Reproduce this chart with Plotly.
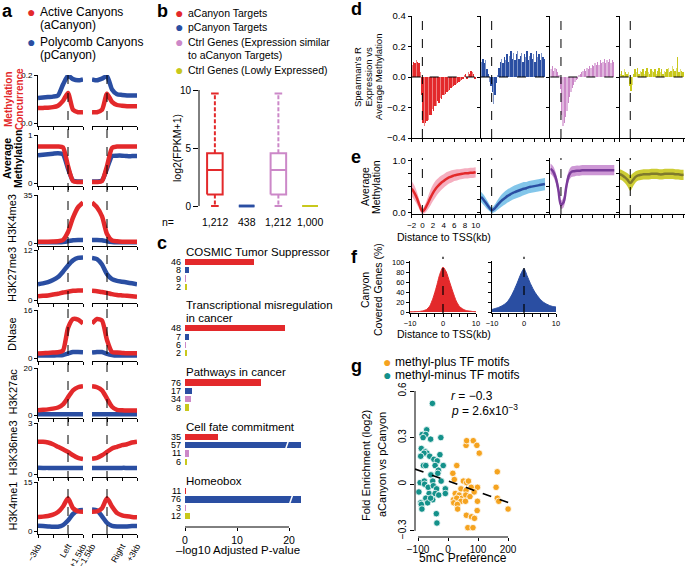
import numpy as np
import plotly.graph_objects as go

FONT = "Liberation Sans, Arial, Helvetica, sans-serif"
W, H = 685, 566

# ======================= DATA =======================
# ---- panel a : profiles around canyon edges (kb) ----
a_left_pos = [-3, -2.5, -2, -1.5, -1, -0.5, 0, 0.5, 1, 1.5]
a_right_pos = [-1.5, -1, -0.5, 0, 0.5, 1, 1.5, 2, 2.5, 3]
a_left_ticks = [-3, -1.5, 0, 1.5]
a_right_ticks = [-1.5, 0, 1.5, 3]
a_left_ticklabels = ["−3kb", "", "Left", "+1.5kb"]
a_right_ticklabels = ["−1.5kb", "", "Right", "+3kb"]
a_track_names = ["Methylation Concurrence", "Average Methylation", "H3K4me3", "H3K27me3",
                 "DNase", "H3K27ac", "H3K36me3", "H3K4me1"]
a_track_max = [0.2, 1, 35, 12, 16, 20, 3, 15]
a_track_top_label = ["0.2", "1", "35", "12", "16", "20", "3", "15"]
a_track_zero_label = ["0.0", "0", "0", "0", "0", "0", "0", "0"]

conc_active_left = [0.062, 0.063, 0.064, 0.066, 0.072, 0.092, 0.125, 0.055, 0.045, 0.045]
conc_active_right = [0.045, 0.045, 0.055, 0.122, 0.088, 0.075, 0.072, 0.070, 0.070, 0.070]
conc_poly_left = [0.104, 0.106, 0.108, 0.110, 0.115, 0.160, 0.197, 0.183, 0.178, 0.182]
conc_poly_right = [0.182, 0.178, 0.185, 0.195, 0.140, 0.120, 0.117, 0.115, 0.115, 0.115]

meth_active_left = [0.76, 0.76, 0.76, 0.76, 0.76, 0.74, 0.35, 0.04, 0.02, 0.02]
meth_active_right = [0.02, 0.02, 0.04, 0.35, 0.73, 0.76, 0.76, 0.76, 0.76, 0.76]
meth_poly_left = [0.58, 0.59, 0.60, 0.61, 0.62, 0.60, 0.30, 0.05, 0.03, 0.03]
meth_poly_right = [0.03, 0.03, 0.05, 0.30, 0.56, 0.57, 0.57, 0.56, 0.56, 0.56]

k4me3_active_left = [1.0, 1.0, 1.0, 1.1, 1.3, 2.2, 8.0, 18.5, 26.0, 29.5]
k4me3_active_right = [29.5, 26.0, 19.5, 6.5, 1.8, 1.2, 1.0, 1.0, 1.0, 1.0]
k4me3_poly_left = [0.5, 0.5, 0.5, 0.5, 0.6, 0.8, 1.3, 2.0, 2.2, 2.2]
k4me3_poly_right = [2.2, 2.2, 2.0, 1.2, 0.7, 0.5, 0.5, 0.5, 0.5, 0.5]

k27me3_active_left = [0.9, 1.0, 1.1, 1.3, 1.5, 1.8, 2.0, 2.2, 2.3, 2.3]
k27me3_active_right = [2.2, 2.1, 1.9, 1.7, 1.4, 1.2, 1.1, 1.0, 0.9, 0.8]
k27me3_poly_left = [3.8, 4.0, 4.3, 4.8, 5.5, 6.8, 8.3, 9.5, 10.1, 10.2]
k27me3_poly_right = [10.1, 9.8, 8.5, 6.2, 5.0, 4.6, 4.4, 4.2, 4.0, 3.8]

dnase_active_left = [1.5, 1.6, 1.7, 1.8, 1.9, 2.5, 10.0, 13.0, 12.8, 11.5]
dnase_active_right = [11.5, 13.0, 12.5, 6.0, 2.0, 1.8, 1.7, 1.6, 1.6, 1.6]
dnase_poly_left = [0.8, 0.8, 0.8, 0.8, 0.9, 1.0, 1.5, 2.0, 2.0, 1.9]
dnase_poly_right = [1.8, 2.0, 2.0, 1.4, 1.0, 0.8, 0.8, 0.8, 0.8, 0.8]

k27ac_active_left = [2.0, 2.2, 2.4, 2.7, 3.2, 4.5, 7.5, 10.5, 11.8, 12.2]
k27ac_active_right = [12.2, 11.8, 10.5, 7.0, 3.5, 2.2, 2.0, 1.9, 1.9, 1.9]
k27ac_poly_left = [0.3, 0.3, 0.3, 0.3, 0.3, 0.3, 0.3, 0.3, 0.3, 0.3]
k27ac_poly_right = [0.3, 0.3, 0.3, 0.3, 0.3, 0.3, 0.3, 0.3, 0.3, 0.3]

k36me3_active_left = [1.9, 1.9, 1.85, 1.75, 1.6, 1.45, 1.3, 1.1, 0.95, 0.88]
k36me3_active_right = [0.9, 0.95, 1.1, 1.3, 1.5, 1.6, 1.7, 1.75, 1.85, 1.9]
k36me3_poly_left = [0.37, 0.36, 0.36, 0.35, 0.35, 0.35, 0.35, 0.35, 0.35, 0.35]
k36me3_poly_right = [0.35, 0.35, 0.35, 0.35, 0.35, 0.35, 0.36, 0.36, 0.36, 0.36]

k4me1_active_left = [4.3, 4.4, 4.6, 5.0, 5.8, 7.5, 10.0, 7.0, 6.0, 5.9]
k4me1_active_right = [5.9, 6.0, 7.0, 10.0, 7.5, 5.5, 4.8, 4.5, 4.3, 4.2]
k4me1_poly_left = [1.6, 1.5, 1.4, 1.3, 1.3, 1.8, 3.2, 5.2, 6.2, 6.4]
k4me1_poly_right = [6.6, 6.3, 4.5, 2.5, 1.6, 1.4, 1.4, 1.4, 1.5, 1.5]

# ---- panel b : expression box statistics ----
b_groups = ["aCanyon Targets", "pCanyon Targets",
            "Ctrl Genes (Expression similar to aCanyon Targets)", "Ctrl Genes (Lowly Expressed)"]
b_n = ["1,212", "438", "1,212", "1,000"]
b_lower = [0, 0, 0, 0]
b_q1 = [1.0, 0, 1.0, 0]
b_median = [3.1, 0, 3.1, 0]
b_q3 = [4.55, 0.06, 4.55, 0]
b_upper = [9.7, 0.08, 9.7, 0]

# ---- panel c : enrichment ----
c_terms = ["COSMIC Tumor Suppressor", "Transcriptional misregulation<br>in cancer",
           "Pathways in cancer", "Cell fate commitment", "Homeobox"]
c_counts = [[46, 8, 9, 2], [48, 7, 6, 2], [76, 17, 34, 8], [35, 57, 11, 6], [11, 76, 3, 12]]
c_values = [[13.3, 0.8, 0.2, 0.3], [19.3, 0.8, 0.1, 0.3], [14.7, 1.4, 1.15, 0.7],
            [6.3, 22.3, 0.7, 0.3], [0.15, 22.3, 0.15, 1.0]]
c_ticks = [0, 10, 20]

# ---- panel d : Spearman's R vs distance to TSS ----
d_bins = [-1.875, -1.625, -1.375, -1.125, -0.875, -0.625, -0.375, -0.125, 0.125, 0.375,
          0.625, 0.875, 1.125, 1.375, 1.625, 1.875, 2.125, 2.375, 2.625, 2.875,
          3.125, 3.375, 3.625, 3.875, 4.125, 4.375, 4.625, 4.875, 5.125, 5.375,
          5.625, 5.875, 6.125, 6.375, 6.625, 6.875, 7.125, 7.375, 7.625, 7.875,
          8.125, 8.375, 8.625, 8.875, 9.125, 9.375, 9.625, 9.875]
d_red = [0.08, 0.10, 0.09, 0.11, 0.10, 0.09, 0.03, -0.12,
         -0.30, -0.32, -0.30, -0.29, -0.28, -0.25, -0.25, -0.21,
         -0.22, -0.19, -0.19, -0.16, -0.17, -0.14, -0.145, -0.12,
         -0.115, -0.11, -0.10, -0.09, -0.085, -0.07, -0.065, -0.06,
         -0.05, -0.045, -0.04, -0.03, -0.025, -0.02, -0.015, 0.01,
         0.02, -0.01, 0.03, 0.02, 0.04, 0.03, 0.02, -0.01]
d_blue = [0.10, 0.12, 0.09, 0.11, 0.05, 0.02, -0.03, -0.06,
          -0.10, -0.18, -0.12, -0.04, 0.01, 0.06, 0.10, 0.12,
          0.09, 0.13, 0.11, 0.15, 0.10, 0.14, 0.17, 0.12,
          0.16, 0.11, 0.15, 0.17, 0.12, 0.14, 0.16, 0.10,
          0.15, 0.13, 0.17, 0.11, 0.14, 0.16, 0.12, 0.15,
          0.10, 0.17, 0.13, 0.15, 0.11, 0.16, 0.13, 0.12]
d_pink = [0.05, 0.07, 0.04, 0.06, 0.05, 0.03, 0.01, -0.08,
          -0.25, -0.32, -0.30, -0.26, -0.22, -0.17, -0.13, -0.10,
          -0.07, -0.05, -0.03, -0.02, -0.01, 0.01, 0.02, 0.03,
          0.04, 0.05, 0.04, 0.06, 0.05, 0.07, 0.06, 0.08,
          0.07, 0.09, 0.08, 0.10, 0.08, 0.11, 0.09, 0.10,
          0.12, 0.09, 0.11, 0.10, 0.12, 0.09, 0.11, 0.10]
d_yellow = [0.02, 0.04, 0.01, 0.05, 0.03, 0.02, 0.03, -0.06,
            -0.09, -0.05, 0.02, 0.05, 0.03, 0.06, 0.02, 0.04,
            0.03, 0.05, 0.02, 0.04, 0.06, 0.03, 0.02, 0.05,
            0.04, 0.03, 0.05, 0.02, 0.04, 0.06, 0.03, 0.05,
            0.02, 0.04, 0.03, 0.05, 0.06, 0.03, 0.04, 0.07,
            0.05, 0.04, 0.06, 0.13, 0.03, 0.05, 0.04, 0.03]

# ---- panel e : average methylation vs distance to TSS ----
e_pos = [-2, -1.5, -1, -0.5, 0, 0.5, 1, 1.5, 2, 2.5, 3, 3.5, 4, 4.5, 5, 5.5, 6, 6.5, 7, 7.5,
         8, 8.5, 9, 9.5, 10]
e_red = [0.46, 0.38, 0.27, 0.13, 0.02, 0.07, 0.17, 0.28, 0.38, 0.46, 0.52, 0.57, 0.61, 0.65,
         0.68, 0.70, 0.72, 0.73, 0.74, 0.75, 0.76, 0.76, 0.77, 0.77, 0.78]
e_red_sd = [0.15, 0.14, 0.12, 0.09, 0.05, 0.08, 0.12, 0.15, 0.16, 0.16, 0.15, 0.14, 0.13, 0.13,
            0.12, 0.12, 0.11, 0.11, 0.10, 0.10, 0.10, 0.10, 0.10, 0.10, 0.10]
e_blue = [0.30, 0.24, 0.17, 0.10, 0.04, 0.07, 0.13, 0.19, 0.24, 0.28, 0.32, 0.35, 0.38, 0.40,
          0.42, 0.44, 0.46, 0.47, 0.49, 0.50, 0.51, 0.52, 0.53, 0.54, 0.55]
e_blue_sd = [0.10, 0.10, 0.09, 0.07, 0.05, 0.07, 0.09, 0.11, 0.12, 0.13, 0.13, 0.13, 0.13, 0.13,
             0.13, 0.13, 0.13, 0.12, 0.12, 0.12, 0.12, 0.12, 0.12, 0.12, 0.12]
e_purple = [0.85, 0.80, 0.68, 0.45, 0.15, 0.20, 0.50, 0.72, 0.79, 0.80, 0.81, 0.81, 0.82, 0.82,
            0.82, 0.82, 0.82, 0.82, 0.82, 0.82, 0.82, 0.82, 0.82, 0.82, 0.82]
e_purple_sd = [0.10, 0.10, 0.10, 0.10, 0.08, 0.10, 0.11, 0.10, 0.10, 0.10, 0.10, 0.10, 0.10, 0.10,
               0.10, 0.10, 0.10, 0.10, 0.10, 0.10, 0.10, 0.10, 0.10, 0.10, 0.10]
e_olive = [0.74, 0.72, 0.68, 0.63, 0.57, 0.63, 0.69, 0.72, 0.73, 0.74, 0.74, 0.74, 0.75, 0.75,
           0.75, 0.74, 0.74, 0.75, 0.75, 0.75, 0.75, 0.74, 0.74, 0.73, 0.73]
e_olive_sd = [0.10, 0.10, 0.11, 0.13, 0.15, 0.13, 0.11, 0.10, 0.10, 0.10, 0.10, 0.10, 0.10, 0.10,
              0.10, 0.10, 0.10, 0.10, 0.10, 0.10, 0.10, 0.10, 0.10, 0.10, 0.10]

# ---- panel f : canyon-covered genes (%) ----
f_pos = [-10, -9, -8, -7, -6, -5, -4, -3, -2, -1, 0, 1, 2, 3, 4, 5, 6, 7, 8, 9, 10]
f_red = [0.3, 0.5, 0.8, 1.2, 2.5, 5, 12, 28, 50, 75, 90, 80, 60, 40, 22, 11, 6, 3, 2, 1, 0.5]
f_blue = [5, 7, 9, 12, 16, 22, 32, 45, 60, 76, 87, 72, 57, 44, 34, 26, 20, 16, 13, 11, 10]

# ---- panel g : TF motif enrichment vs 5mC preference ----
g_minus_x = [-52, -71, -86, -74, -83, -58, -24, -89, -76, -70, -80, -61, -91, -27, -47, -36,
             -82, -74, -43, -16, -32, -57, -34, -93, -79, -78, -66, -51, -49, -38, -23, -9,
             -97, -63, -43, -31, -9, -74, -91, -89, -51, -68, -87, -39, -37, -58]
g_minus_y = [0.52, 0.35, 0.32, 0.32, 0.30, 0.29, 0.30, 0.23, 0.21, 0.20, 0.20, 0.18, 0.18,
             0.19, 0.16, 0.15, 0.12, 0.12, 0.12, 0.12, 0.09, 0.06, 0.07, 0.01, 0.02, 0.00,
             -0.02, 0.02, -0.01, -0.03, 0.02, -0.03, -0.05, -0.06, -0.06, -0.07, -0.06, -0.09,
             -0.12, -0.13, -0.10, -0.12, -0.16, -0.19, -0.25, -0.09]
g_plus_x = [60, 62, 84, 96, 104, 29, 16, 21, 51, 62, 68, 164, 160, 98, 77, 87, 43, 60, 24, 37,
            47, 59, 73, 18, 29, 43, 58, 19, 31, 98, 164, 169, 200, 97, 61, 78, 88, 66, 83, 32]
g_plus_y = [0.25, 0.28, 0.28, 0.25, 0.20, 0.12, 0.07, 0.03, 0.02, 0.01, 0.02, 0.08, -0.02,
            -0.02, -0.02, -0.05, -0.03, -0.04, -0.06, -0.07, -0.09, -0.07, -0.08, -0.10, -0.09,
            -0.11, -0.11, -0.12, -0.13, -0.11, -0.09, -0.11, -0.16, -0.17, -0.20, -0.21, -0.22,
            -0.28, -0.28, -0.16]

# ======================= STYLE =======================
RED = "#E3292B"
BLUE = "#2A4EA2"
PINK = "#CC88C8"
YELLOW = "#C8C81C"
TEAL = "#14918A"
ORANGE = "#F5A31F"


def px(x):
    return x / W


def py(y):
    return 1 - y / H


fig = go.Figure()
layout = {}
ann = []
shapes = []
counter = [0]


def base_axis(**kw):
    d = dict(showgrid=False, zeroline=False, showline=True, linecolor="black", linewidth=1,
             ticks="outside", ticklen=3, tickwidth=1, tickcolor="black", automargin=False,
             tickfont=dict(size=9, color="black", family=FONT))
    d.update(kw)
    return d


def new_axes(x0, x1, top, bottom, xa, ya):
    counter[0] += 1
    k = counter[0]
    s = "" if k == 1 else str(k)
    xa = dict(xa)
    ya = dict(ya)
    xa.update(domain=[max(0, px(x0)), min(1, px(x1))], anchor="y" + s)
    ya.update(domain=[py(bottom), py(top)], anchor="x" + s)
    layout["xaxis" + s] = xa
    layout["yaxis" + s] = ya
    return "x" + s, "y" + s


def text(x, y, s, size=10, color="black", xanchor="center", yanchor="middle", angle=0,
         xref="paper", yref="paper"):
    if xref == "paper":
        x = px(x)
    if yref == "paper":
        y = py(y)
    ann.append(dict(x=x, y=y, xref=xref, yref=yref, text=s, showarrow=False,
                    font=dict(size=size, color=color, family=FONT),
                    xanchor=xanchor, yanchor=yanchor, textangle=angle))


# ======================= PANEL A =======================
a_active = [(conc_active_left, conc_active_right), (meth_active_left, meth_active_right),
            (k4me3_active_left, k4me3_active_right), (k27me3_active_left, k27me3_active_right),
            (dnase_active_left, dnase_active_right), (k27ac_active_left, k27ac_active_right),
            (k36me3_active_left, k36me3_active_right), (k4me1_active_left, k4me1_active_right)]
a_poly = [(conc_poly_left, conc_poly_right), (meth_poly_left, meth_poly_right),
          (k4me3_poly_left, k4me3_poly_right), (k27me3_poly_left, k27me3_poly_right),
          (dnase_poly_left, dnase_poly_right), (k27ac_poly_left, k27ac_poly_right),
          (k36me3_poly_left, k36me3_poly_right), (k4me1_poly_left, k4me1_poly_right)]
row_top = [75, 135, 195, 250, 310, 368, 423, 482]
row_zero = [123, 183, 243, 300, 358, 415, 474, 531]
first_left_x = None
first_right_x = None
for r in range(8):
    T, Z = row_top[r], row_zero[r]
    ymax = a_track_max[r]
    bottom = Z + 3
    ymin = -ymax * 3 / (Z - T)
    last = r == 7
    ya = base_axis(range=[ymin, ymax], tickvals=[0, ymax],
                   ticktext=[a_track_zero_label[r], a_track_top_label[r]],
                   tickfont=dict(size=8, color="black", family=FONT))
    for side in range(2):
        if side == 0:
            pos, ticks, labels, x0, x1 = a_left_pos, a_left_ticks, a_left_ticklabels, 38, 83
        else:
            pos, ticks, labels, x0, x1 = a_right_pos, a_right_ticks, a_right_ticklabels, 92, 137
        xa = base_axis(range=[pos[0], pos[-1]], tickvals=ticks, ticklen=3,
                       showticklabels=last, ticktext=labels, tickangle=-60,
                       tickfont=dict(size=8.5, color="black", family=FONT))
        yaa = dict(ya)
        if side == 1:
            yaa.update(showline=False, ticks="", showticklabels=False)
        xr, yr = new_axes(x0, x1, T, bottom, xa, yaa)
        if r == 0 and side == 0:
            first_left_x = xr
        if r == 0 and side == 1:
            first_right_x = xr
        fig.add_trace(go.Scatter(x=pos, y=a_poly[r][side], mode="lines",
                                 line=dict(color=BLUE, width=4.5, shape="spline", smoothing=0.6),
                                 xaxis=xr, yaxis=yr, hoverinfo="skip"))
        fig.add_trace(go.Scatter(x=pos, y=a_active[r][side], mode="lines",
                                 line=dict(color=RED, width=4.5, shape="spline", smoothing=0.6),
                                 xaxis=xr, yaxis=yr, hoverinfo="skip"))
    cy = (T + Z) / 2
    if r == 0:
        text(8, cy, "<b>Methylation</b>", 10, RED, angle=-90)
        text(19, cy, "<b>Concurrence</b>", 10, RED, angle=-90)
    elif r == 1:
        text(7, cy, "<b>Average</b>", 10.5, "black", angle=-90)
        text(18, cy, "<b>Methylation</b>", 10.5, "black", angle=-90)
    else:
        text(12, cy, a_track_names[r], 11, "black", angle=-90)

for xr in (first_left_x, first_right_x):
    shapes.append(dict(type="line", xref=xr, yref="paper", x0=0, x1=0, y0=py(534), y1=py(72),
                       line=dict(color="black", width=1, dash="dash")))

text(7, 11, "<b>a</b>", 18)
text(31, 12, "●", 14, RED)
text(38, 12, "Active Canyons", 12, xanchor="left")
text(38, 25, "(aCanyon)", 12, xanchor="left")
text(31, 42, "●", 14, BLUE)
text(38, 42, "Polycomb Canyons", 12, xanchor="left")
text(38, 55, "(pCanyon)", 12, xanchor="left")

# ======================= PANEL B =======================
b_colors = [RED, BLUE, PINK, YELLOW]
xa = base_axis(range=[0.5, 4.5], showline=False, ticks="", showticklabels=False)
ya = base_axis(range=[-0.3, 10], tickvals=[0, 5, 10], ticklen=5, showline=False,
               tickfont=dict(size=10, color="black", family=FONT))
bx, by = new_axes(199, 326, 90, 209.5, xa, ya)
shapes.append(dict(type="line", xref="paper", yref=by, x0=px(199), x1=px(199), y0=0, y1=10,
                   line=dict(color="black", width=1)))
hw, cw = 0.245, 0.12
for i in range(4):
    c = b_colors[i]
    xc = i + 1
    lw = 2.6 if i == 1 else 2
    fig.add_trace(go.Scatter(x=[xc - hw, xc + hw, xc + hw, xc - hw, xc - hw],
                             y=[b_q1[i], b_q1[i], b_q3[i], b_q3[i], b_q1[i]], mode="lines",
                             line=dict(color=c, width=lw), xaxis=bx, yaxis=by, hoverinfo="skip"))
    fig.add_trace(go.Scatter(x=[xc - hw, xc + hw], y=[b_median[i], b_median[i]], mode="lines",
                             line=dict(color=c, width=lw), xaxis=bx, yaxis=by, hoverinfo="skip"))
    if b_upper[i] > b_q3[i] + 0.2:
        for a0, a1 in ((b_q3[i], b_upper[i]), (b_q1[i], b_lower[i])):
            fig.add_trace(go.Scatter(x=[xc, xc], y=[a0, a1], mode="lines",
                                     line=dict(color=c, width=2, dash="4px,2px"),
                                     xaxis=bx, yaxis=by, hoverinfo="skip"))
            fig.add_trace(go.Scatter(x=[xc - cw, xc + cw], y=[a1, a1], mode="lines",
                                     line=dict(color=c, width=2),
                                     xaxis=bx, yaxis=by, hoverinfo="skip"))
    text(xc, 222, b_n[i], 10.5, xref=bx)
text(168, 222, "n=", 10.5)
text(177, 148, "log2(FPKM+1)", 10.5, angle=-90)

text(162, 11, "<b>b</b>", 18)
leg_b = [(12.5, b_groups[0]), (27, b_groups[1]), (42, "Ctrl Genes (Expression similar"),
         (70, b_groups[3])]
for k, (yy, s) in enumerate(leg_b):
    text(179, yy, "●", 14, b_colors[k])
    text(186, yy, s, 10.5, xanchor="left")
text(186, 55, "to aCanyon Targets)", 10.5, xanchor="left")

# ======================= PANEL C =======================
c_colors = [RED, BLUE, PINK, YELLOW]
unit = 8.3
xa = base_axis(range=[0, 22.5], showline=False, tickvals=c_ticks, ticklen=3,
               tickfont=dict(size=10.5, color="black", family=FONT))
ya = base_axis(range=[(527 - 262) / unit, (245 - 262) / unit], showline=False, ticks="",
               showticklabels=False)
cx, cy_ = new_axes(185, 302, 245, 527, xa, ya)
shapes.append(dict(type="line", xref=cx, yref="paper", x0=0, x1=20, y0=py(527), y1=py(527),
                   line=dict(color="black", width=1)))
ys, xs, cols = [], [], []
for g in range(5):
    base = g * 6.54 + (1.45 if g >= 1 else 0)
    for j in range(4):
        yv = base + j
        ys.append(yv)
        xs.append(c_values[g][j])
        cols.append(c_colors[j])
        text(183, yv, str(c_counts[g][j]), 9, xanchor="right", yref=cy_)
    if g == 1:
        text(184, base - 2.75, "Transcriptional misregulation", 11.5, xanchor="left", yref=cy_)
        text(184, base - 1.2, "in cancer", 11.5, xanchor="left", yref=cy_)
    else:
        text(184, base - 1.25, c_terms[g], 11.5, xanchor="left", yref=cy_)
fig.add_trace(go.Bar(x=xs, y=ys, orientation="h", width=0.75, marker=dict(color=cols, line_width=0),
                     xaxis=cx, yaxis=cy_, hoverinfo="skip"))
for g, j, xb in ((3, 1, 19.6), (4, 1, 20.4)):
    yb = g * 6.54 + 1.45 + j
    shapes.append(dict(type="line", xref=cx, yref=cy_, x0=xb - 0.25, x1=xb + 0.25,
                       y0=yb + 0.45, y1=yb - 0.45, line=dict(color="white", width=1.5)))
text(238, 550, "–log10 Adjusted P-value", 11.5)
text(162, 243, "<b>c</b>", 18)

# ======================= PANEL D & E =======================
d_series = [d_red, d_blue, d_pink, d_yellow]
d_colors = [RED, BLUE, PINK, YELLOW]
e_series = [(e_red, e_red_sd, RED, "rgba(243,160,180,0.85)"),
            (e_blue, e_blue_sd, BLUE, "rgba(118,192,232,0.9)"),
            (e_purple, e_purple_sd, "#7A3C9A", "rgba(200,140,208,0.9)"),
            (e_olive, e_olive_sd, "#7F7A2C", "rgba(200,198,30,0.9)")]
scale = 5.33
streak = [1.0 if i % 3 else 0.6 for i in range(len(d_bins))]
for k in range(4):
    left = 411.7 + 69.3 * k
    right = min(left + 68.3, 685)
    rmax = -2 + (right - left) / scale
    # d
    xa = base_axis(range=[-2, rmax], tickvals=[-2, 0, 2, 4, 6, 8, 10], showticklabels=False)
    ya = base_axis(range=[-0.4, 0.4], tickvals=[-0.4, -0.2, 0, 0.2, 0.4],
                   ticktext=["−0.4", "−0.2", "0.0", "0.2", "0.4"], showticklabels=(k == 0),
                   tickfont=dict(size=9.5, color="black", family=FONT))
    dx, dy = new_axes(left, right, 16, 138, xa, ya)
    fig.add_trace(go.Bar(x=d_bins, y=d_series[k], width=0.25,
                         marker=dict(color=d_colors[k], line_width=0, opacity=streak),
                         xaxis=dx, yaxis=dy, hoverinfo="skip"))
    shapes.append(dict(type="line", xref=dx, yref=dy + " domain", x0=0, x1=0, y0=0, y1=1,
                       line=dict(color="black", width=1, dash="dash")))
    shapes.append(dict(type="line", xref=dx + " domain", yref=dy, x0=0, x1=1, y0=0, y1=0,
                       line=dict(color="black", width=1, dash="dash")))
    # e
    m, sd, lc, bc = e_series[k]
    xa = base_axis(range=[-2, rmax], tickvals=[-2, 0, 2, 4, 6, 8, 10],
                   ticktext=["−2", "0", "2", "4", "6", "8", "10"], showticklabels=(k == 0),
                   tickfont=dict(size=8, color="black", family=FONT))
    ya = base_axis(range=[-0.033, 1.058], tickvals=[0, 0.25, 0.5, 0.75, 1],
                   ticktext=["0.0", "", "", "", "1.0"], showticklabels=(k == 0),
                   tickfont=dict(size=9.5, color="black", family=FONT))
    ex, ey = new_axes(left, right, 158, 214, xa, ya)
    lo = [a - b for a, b in zip(m, sd)]
    hi = [a + b for a, b in zip(m, sd)]
    fig.add_trace(go.Scatter(x=e_pos, y=lo, mode="lines", line=dict(width=0, shape="spline"),
                             xaxis=ex, yaxis=ey, hoverinfo="skip"))
    fig.add_trace(go.Scatter(x=e_pos, y=hi, mode="lines", line=dict(width=0, shape="spline"),
                             fill="tonexty", fillcolor=bc, xaxis=ex, yaxis=ey, hoverinfo="skip"))
    fig.add_trace(go.Scatter(x=e_pos, y=m, mode="lines", line=dict(color=lc, width=2.5, shape="spline"),
                             xaxis=ex, yaxis=ey, hoverinfo="skip"))
    shapes.append(dict(type="line", xref=ex, yref=ey + " domain", x0=0, x1=0, y0=0, y1=1,
                       line=dict(color="black", width=1, dash="dash")))

text(358, 77, "Spearman's R", 9.5, angle=-90)
text(368.5, 77, "Expression vs", 9.5, angle=-90)
text(379, 77, "Average Methylation", 9.5, angle=-90)
text(356, 9, "<b>d</b>", 18)
text(365, 187, "Average", 10.5, angle=-90)
text(376, 187, "Methylation", 10.5, angle=-90)
text(356, 157, "<b>e</b>", 18)
text(444, 237, "Distance to TSS(kb)", 10.5)

# ======================= PANEL F =======================
f_series = [(f_red, RED), (f_blue, BLUE)]
for k, (x0, x1) in enumerate(((410, 476), (492, 556))):
    xa = base_axis(range=[-10, 10], tickvals=[-10, -7.5, -5, -2.5, 0, 2.5, 5, 7.5, 10],
                   ticktext=["−10", "", "", "", "0", "", "", "", "10"], ticklen=2.5,
                   tickfont=dict(size=7.5, color="black", family=FONT))
    ya = base_axis(range=[-2, 102], tickvals=[0, 20, 40, 60, 80, 100], showticklabels=(k == 0),
                   tickfont=dict(size=7.5, color="black", family=FONT))
    fx, fy = new_axes(x0, x1, 261, 313, xa, ya)
    vals, col = f_series[k]
    fig.add_trace(go.Scatter(x=f_pos, y=vals, mode="lines", fill="tozeroy", fillcolor=col,
                             line=dict(color=col, width=1, shape="spline", smoothing=0.5),
                             xaxis=fx, yaxis=fy, hoverinfo="skip"))
    shapes.append(dict(type="line", xref=fx, yref=fy + " domain", x0=0, x1=0, y0=0, y1=1.08,
                       line=dict(color="black", width=1.2, dash="dash")))
text(365, 290, "Canyon", 10.5, angle=-90)
text(378, 290, "Covered Genes (%)", 10.5, angle=-90)
text(354, 257, "<b>f</b>", 18)
text(444, 334, "Distance to TSS(kb)", 10.5)

# ======================= PANEL G =======================
xa = base_axis(range=[-110, 223], showline=False, tickvals=[-100, 0, 100, 200],
               ticktext=["−100", "0", "100", "200"], ticklen=3,
               tickfont=dict(size=10, color="black", family=FONT))
ya = base_axis(range=[-0.34, 0.6], showline=False, tickvals=[-0.3, 0, 0.3, 0.6],
               ticktext=["−0.3", "0", "0.3", "0.6"], tickangle=-90, ticklen=4,
               tickfont=dict(size=10, color="black", family=FONT))
gx, gy = new_axes(415, 515, 391, 537, xa, ya)
shapes.append(dict(type="line", xref="paper", yref=gy, x0=px(415), x1=px(415), y0=-0.3, y1=0.6,
                   line=dict(color="black", width=1)))
shapes.append(dict(type="line", xref=gx, yref="paper", x0=-100, x1=200, y0=py(537), y1=py(537),
                   line=dict(color="black", width=1)))
fig.add_trace(go.Scatter(x=g_minus_x, y=g_minus_y, mode="markers",
                         marker=dict(color=TEAL, size=6.5, line=dict(color="white", width=0.8)),
                         xaxis=gx, yaxis=gy, hoverinfo="skip"))
fig.add_trace(go.Scatter(x=g_plus_x, y=g_plus_y, mode="markers",
                         marker=dict(color=ORANGE, size=6.5, line=dict(color="white", width=0.8)),
                         xaxis=gx, yaxis=gy, hoverinfo="skip"))
allx = np.array(g_minus_x + g_plus_x, dtype=float)
ally = np.array(g_minus_y + g_plus_y, dtype=float)
slope, icpt = np.polyfit(allx, ally, 1)
fx_line = np.array([-110, 212])
fig.add_trace(go.Scatter(x=fx_line, y=slope * fx_line + icpt, mode="lines",
                         line=dict(color="black", width=1.6, dash="dash"),
                         xaxis=gx, yaxis=gy, hoverinfo="skip"))
text(449, 396, "<i>r</i> = −0.3", 12, xanchor="left")
text(449, 410, "<i>p</i> = 2.6x10<sup>−3</sup>", 12, xanchor="left")
text(366, 465, "Fold Enrichment (log2)", 11, angle=-90)
text(382, 465, "aCanyon vs pCanyon", 11, angle=-90)
text(463, 558, "5mC Preference", 12)
text(356, 366, "<b>g</b>", 18)
text(387, 362, "●", 14, ORANGE)
text(393, 362, "methyl-plus TF motifs", 12, xanchor="left")
text(387, 375, "●", 14, TEAL)
text(393, 375, "methyl-minus TF motifs", 12, xanchor="left")

# ======================= LAYOUT =======================
fig.update_layout(width=W, height=H, margin=dict(l=0, r=0, t=0, b=0, autoexpand=False),
                  paper_bgcolor="white", plot_bgcolor="white", showlegend=False,
                  font=dict(family=FONT, color="black"), bargap=0,
                  annotations=ann, shapes=shapes, **layout)
fig.write_html("out.html", config={"displayModeBar": False, "staticPlot": True},
               post_script="document.body.style.margin='0px';"
                           "document.body.style.overflow='hidden';")
